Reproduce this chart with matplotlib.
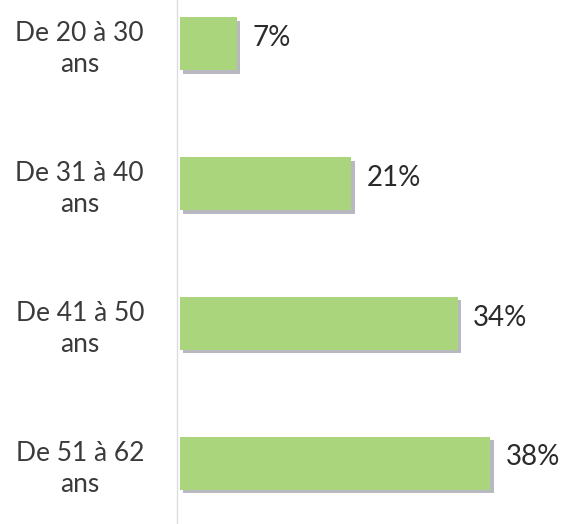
import matplotlib.pyplot as plt
import matplotlib.patheffects as pe

categories = ['De 20 à 30\nans', 'De 31 à 40\nans', 'De 41 à 50\nans', 'De 51 à 62\nans']
values = [7, 21, 34, 38]
value_labels = ['7%', '21%', '34%', '38%']

plt.rcParams['font.family'] = ['Lato', 'DejaVu Sans']

fig = plt.figure(figsize=(5.69, 5.24), dpi=100)
ax = fig.add_axes([177 / 569, 0, 1 - 177 / 569, 1])

pos = list(range(len(categories)))
bars = ax.barh(pos, values, height=0.38, left=0.35, color='#abd57c', edgecolor='none')
for b in bars:
    b.set_path_effects([pe.SimplePatchShadow(offset=(2.5, -2.5), shadow_rgbFace='#8a8a98', alpha=0.6),
                        pe.Normal()])

for p, v, lab in zip(pos, values, value_labels):
    ax.text(v + 0.35 + 1.9, p - 0.04, lab, va='center', ha='left', fontsize=20,
            color='#2b2b2b')

ax.set_xlim(0, 48)
ax.set_ylim(3.436, -0.314)
ax.set_yticks(pos)
ax.set_yticklabels(categories, ha='center', fontsize=19, color='#3a3a3a', linespacing=1.3)
ax.tick_params(axis='y', length=0, pad=70)
ax.set_xticks([])

for s in ['top', 'right', 'bottom']:
    ax.spines[s].set_visible(False)
ax.spines['left'].set_color('#dcdde3')
ax.spines['left'].set_linewidth(1.0)

fig.savefig('out.png', dpi=100, facecolor='white')
